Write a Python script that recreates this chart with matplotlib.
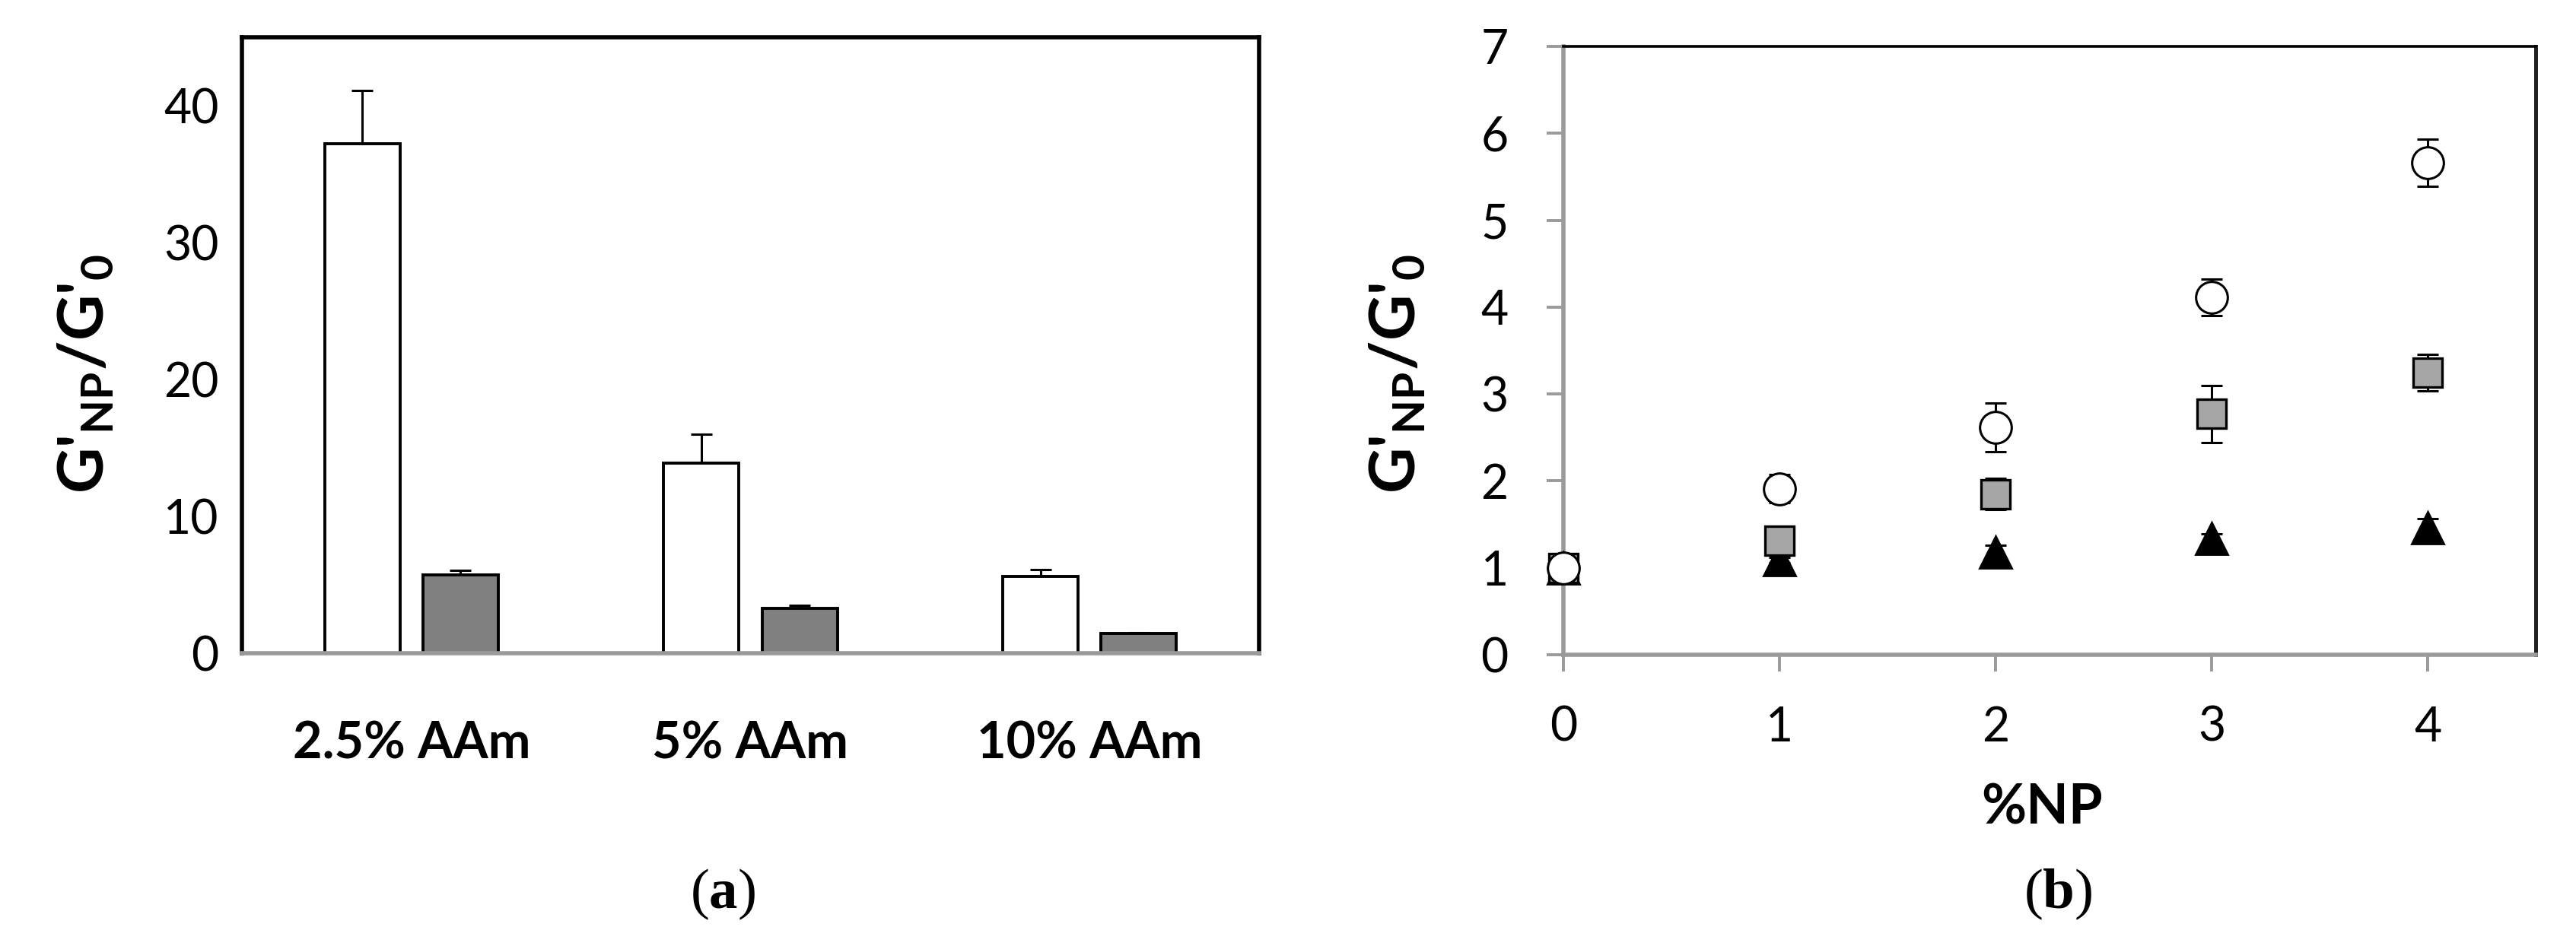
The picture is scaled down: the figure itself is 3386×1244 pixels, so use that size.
import numpy as np
import matplotlib
matplotlib.use("Agg")
import matplotlib.pyplot as plt

# ---------------- data ----------------
categories = ['2.5% AAm', '5% AAm', '10% AAm']
white_vals = [37.2, 13.9, 5.6]
white_err = [3.9, 2.1, 0.5]
gray_vals = [5.75, 3.28, 1.45]
gray_err = [0.3, 0.2, 0.05]

np_pct = [0, 1, 2, 3, 4]
circ_vals = [1.0, 1.91, 2.62, 4.11, 5.66]
circ_err = [0.0, 0.16, 0.28, 0.21, 0.27]
sq_vals = [1.0, 1.31, 1.85, 2.77, 3.25]
sq_err = [0.0, 0.05, 0.18, 0.33, 0.21]
tri_vals = [1.0, 1.09, 1.18, 1.34, 1.46]
tri_err = [0.0, 0.03, 0.08, 0.05, 0.11]

left_yticks = [0, 10, 20, 30, 40]
right_yticks = [0, 1, 2, 3, 4, 5, 6, 7]

# ---------------- style ----------------
plt.rcParams['font.family'] = ['Lato', 'DejaVu Sans']
plt.rcParams['mathtext.fontset'] = 'custom'
plt.rcParams['mathtext.sf'] = 'Lato:bold'
plt.rcParams['mathtext.rm'] = 'Liberation Serif'
plt.rcParams['mathtext.bf'] = 'Liberation Serif:bold'

W, H = 3387, 1244
DPI = 200
fig = plt.figure(figsize=(W / DPI, H / DPI), dpi=DPI)
fig.patch.set_facecolor('white')


def box(x0, y0, x1, y1):
    return [x0 / W, 1 - y1 / H, (x1 - x0) / W, (y1 - y0) / H]


TICK_FS = 22.5
LABEL_FS = 30
GRAY_SPINE = '#9a9a9a'

# ---------------- panel (a) ----------------
ax1 = fig.add_axes(box(318, 49, 1655, 859))
x = np.arange(len(categories))
bw = 0.222
off = 0.145
ax1.bar(x - off, white_vals, bw, color='white', edgecolor='black', linewidth=1.4, zorder=2)
ax1.bar(x + off, gray_vals, bw, color='#808080', edgecolor='black', linewidth=1.4, zorder=2)
ax1.errorbar(x - off, white_vals, yerr=[np.zeros(3), white_err], fmt='none',
             ecolor='black', elinewidth=1.1, capsize=5, capthick=1.1, zorder=1)
ax1.errorbar(x + off, gray_vals, yerr=[np.zeros(3), gray_err], fmt='none',
             ecolor='black', elinewidth=1.1, capsize=5, capthick=1.1, zorder=1)
ax1.set_xlim(-0.5, 2.5)
ax1.set_ylim(0, 45)
ax1.set_yticks(left_yticks)
ax1.set_xticks(x)
ax1.set_xticklabels(categories, fontweight='bold', fontsize=24)
ax1.tick_params(axis='y', length=0, pad=11, labelsize=TICK_FS)
ax1.tick_params(axis='x', length=0, pad=32)
for s in ['top', 'left', 'right']:
    ax1.spines[s].set_color('black')
    ax1.spines[s].set_linewidth(2.0)
ax1.spines['bottom'].set_color(GRAY_SPINE)
ax1.spines['bottom'].set_linewidth(2.0)

# ---------------- panel (b) ----------------
ax2 = fig.add_axes(box(2055, 61, 3333, 861))
ms = 15
ax2.errorbar(np_pct, tri_vals, yerr=tri_err, fmt='none', ecolor='black',
             elinewidth=1.1, capsize=5, capthick=1.1, zorder=2)
ax2.plot(np_pct, tri_vals, linestyle='none', marker='^', markersize=ms,
         color='black', markeredgecolor='black', zorder=2.5, clip_on=False)
ax2.errorbar(np_pct, sq_vals, yerr=sq_err, fmt='none', ecolor='black',
             elinewidth=1.1, capsize=5, capthick=1.1, zorder=3)
ax2.plot(np_pct, sq_vals, linestyle='none', marker='s', markersize=ms - 1,
         markerfacecolor='#a6a6a6', markeredgecolor='black', markeredgewidth=1.2,
         zorder=3.5, clip_on=False)
ax2.errorbar(np_pct, circ_vals, yerr=circ_err, fmt='none', ecolor='black',
             elinewidth=1.1, capsize=5, capthick=1.1, zorder=4)
ax2.plot(np_pct, circ_vals, linestyle='none', marker='o', markersize=ms,
         markerfacecolor='white', markeredgecolor='black', markeredgewidth=1.1,
         zorder=4.5, clip_on=False)
ax2.set_xlim(0, 4.5)
ax2.set_ylim(0, 7)
ax2.set_xticks(np_pct)
ax2.set_yticks(right_yticks)
ax2.tick_params(axis='both', direction='out', length=8, width=1.4,
                color=GRAY_SPINE, labelsize=TICK_FS)
ax2.tick_params(axis='x', pad=16)
ax2.tick_params(axis='y', pad=18)
ax2.spines['left'].set_color(GRAY_SPINE)
ax2.spines['left'].set_linewidth(2.0)
ax2.spines['bottom'].set_color(GRAY_SPINE)
ax2.spines['bottom'].set_linewidth(2.0)
ax2.spines['top'].set_color('black')
ax2.spines['top'].set_linewidth(1.3)
ax2.spines['right'].set_color('#222222')
ax2.spines['right'].set_linewidth(1.8)
for s in ax1.spines.values():
    s.set_zorder(5)
for name, s in ax2.spines.items():
    s.set_zorder(1 if name == 'left' else 5)

ax2.set_xlabel('%NP', fontweight='bold', fontsize=26)
ax2.xaxis.set_label_coords((2684 - 2055) / 1278, (861 - 1030) / 800)

# ---------------- y labels ----------------
ylab = "G'$_\\mathsf{NP}$/G'$_\\mathsf{0}$"
fig.text(113 / W, 1 - 492 / H, ylab, rotation=90, fontweight='bold',
         fontsize=LABEL_FS, ha='center', va='center')
fig.text(1837 / W, 1 - 492 / H, ylab, rotation=90, fontweight='bold',
         fontsize=LABEL_FS, ha='center', va='center')

# ---------------- panel captions ----------------
fig.text(950 / W, 1 - 1176 / H, r"($\mathbf{a}$)", family='Liberation Serif',
         fontsize=27, ha='center', va='center')
fig.text(2705 / W, 1 - 1176 / H, r"($\mathbf{b}$)", family='Liberation Serif',
         fontsize=27, ha='center', va='center')

fig.savefig('out.png', dpi=DPI, facecolor='white')
